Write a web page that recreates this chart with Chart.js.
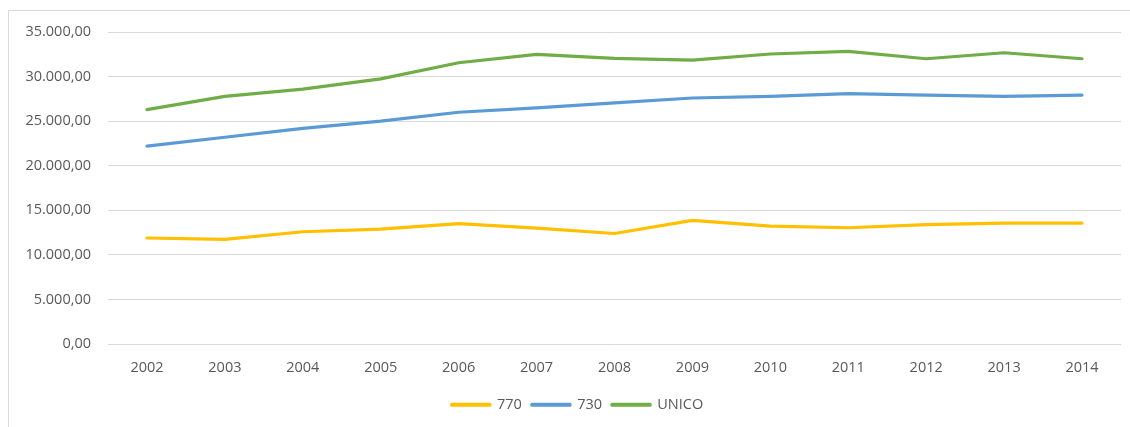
<!DOCTYPE html>
<html>
<head>
<meta charset="utf-8">
<script src="https://cdn.jsdelivr.net/npm/chart.js@4/dist/chart.umd.min.js"></script>
<style>
html,body{margin:0;padding:0;background:#fff;overflow:hidden;width:1130px;height:427px;}
#frame{position:absolute;left:8px;top:10px;width:1200px;height:500px;border:1px solid #D9D9D9;}
#wrap{position:absolute;left:0;top:0;width:1130px;height:427px;}
</style>
</head>
<body>
<div id="frame"></div>
<div id="wrap"><canvas id="c" width="1130" height="427"></canvas></div>
<script>
const categories = ['2002','2003','2004','2005','2006','2007','2008','2009','2010','2011','2012','2013','2014'];
const values770 = [11900, 11750, 12600, 12900, 13500, 13000, 12400, 13880, 13240, 13050, 13390, 13570, 13570];
const values730 = [22200, 23200, 24200, 25000, 26000, 26500, 27050, 27600, 27780, 28100, 27920, 27770, 27920];
const valuesUnico = [26300, 27780, 28600, 29750, 31550, 32500, 32050, 31850, 32530, 32830, 32000, 32670, 32000];
const yTicks = [0, 5000, 10000, 15000, 20000, 25000, 30000, 35000];

const fmt = v => {
  const s = Math.round(v).toString().replace(/\B(?=(\d{3})+(?!\d))/g, '.');
  return s + ',00';
};

function ds(label, data, color) {
  return {
    label, data,
    borderColor: color, backgroundColor: color,
    borderWidth: 3.2, pointRadius: 0, pointHoverRadius: 0,
    tension: 0, fill: false, borderCapStyle: 'round', borderJoinStyle: 'round'
  };
}

const shiftLegend = {
  id: 'shiftLegend',
  beforeDraw(chart) {
    const lg = chart.legend;
    if (lg && !lg._shifted) { lg.left += 17; lg.right += 17; lg._shifted = true; }
  }
};

new Chart(document.getElementById('c'), {
  type: 'line',
  data: {
    labels: categories,
    datasets: [
      ds('770', values770, '#FFC000'),
      ds('730', values730, '#5B9BD5'),
      ds('UNICO', valuesUnico, '#70AD47')
    ]
  },
  plugins: [shiftLegend],
  options: {
    responsive: false,
    animation: false,
    events: [],
    layout: { padding: { left: 0, right: 9, top: 32, bottom: 5 } },
    plugins: {
      tooltip: { enabled: false },
      legend: {
        position: 'bottom',
        labels: {
          boxWidth: 38, boxHeight: 1, padding: 10,
          color: '#595959',
          font: { family: 'Open Sans', size: 14.5 }
        }
      }
    },
    scales: {
      x: {
        offset: true,
        afterFit: s => { s.height += 4; },
        grid: { display: false },
        border: { display: false },
        ticks: { color: '#595959', font: { family: 'Open Sans', size: 14.5 }, padding: 7, maxRotation: 0 }
      },
      y: {
        min: 0, max: 35000,
        afterFit: s => { s.width = 108; },
        afterBuildTicks: s => { s.ticks = yTicks.map(v => ({ value: v })); },
        grid: { color: '#D9D9D9', lineWidth: 1, drawTicks: false },
        border: { display: false },
        ticks: { color: '#595959', font: { family: 'Open Sans', size: 14.5 }, padding: 17, callback: v => fmt(v) }
      }
    }
  }
});
</script>
</body>
</html>
